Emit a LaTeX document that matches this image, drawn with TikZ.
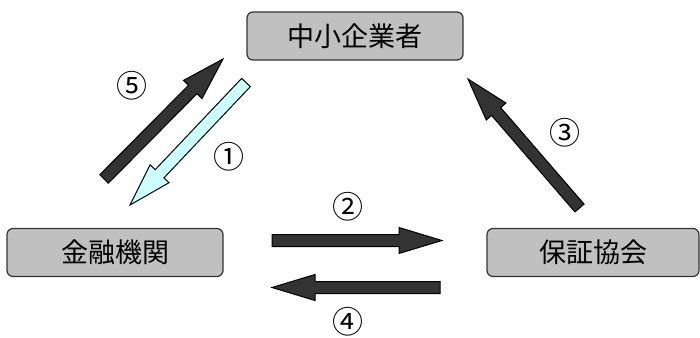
\documentclass[tikz,border=0pt]{standalone}
\usepackage{fontspec}
\setmainfont{Noto Sans CJK JP}
\usetikzlibrary{calc}
\definecolor{boxgray}{HTML}{C0C0C0}
\definecolor{arrdark}{HTML}{333333}
\definecolor{arrcyan}{HTML}{CCFFFF}
\newcommand\arrW{6pt}
\newcommand\arrHW{13pt}
\newcommand\arrL{43pt}
\newcommand\blockarr[3]{%
  \coordinate (neck) at ($(#3)!\arrL!(#2)$);
  \draw[#1] ($(#2)!\arrW!90:(#3)$) -- ($(neck)!\arrW!90:(#3)$) -- ($(neck)!\arrHW!90:(#3)$) -- (#3)
    -- ($(neck)!\arrHW!-90:(#3)$) -- ($(neck)!\arrW!-90:(#3)$) -- ($(#2)!\arrW!-90:(#3)$) -- cycle;}
\tikzset{
  entity/.style={draw=black!80, line width=1.2pt, fill=boxgray, rounded corners=6pt,
    minimum width=216pt, minimum height=48pt, inner sep=0pt, font=\fontsize{27}{30}\selectfont},
  darr/.style={draw=black, line width=1pt, fill=arrdark, line join=miter},
  carr/.style={draw=black, line width=1pt, fill=arrcyan, line join=miter},
  numlbl/.style={font=\fontsize{31}{34}\selectfont, inner sep=0pt, text height=24pt, text depth=3pt}
}
\begin{document}
\begin{tikzpicture}[x=1pt,y=-1pt]
\useasboundingbox (0,0) rectangle (700,337);
\node[entity] (sme) at (355,36) {中小企業者};
\node[entity] (bank) at (115,252.5) {金融機関};
\node[entity, minimum width=212pt] (guar) at (593,252.5) {保証協会};
% arrow end points
\coordinate (a5s) at (104,179); \coordinate (a5e) at (223,59);
\coordinate (a1s) at (246,82.5); \coordinate (a1e) at (130,205);
\coordinate (a3s) at (579.5,208); \coordinate (a3e) at (468,79);
\coordinate (a2s) at (272,240.5); \coordinate (a2e) at (442,240.5);
\coordinate (a4s) at (440,287.5); \coordinate (a4e) at (272,287.5);
\blockarr{darr}{a5s}{a5e}
\blockarr{carr}{a1s}{a1e}
\blockarr{darr}{a3s}{a3e}
\blockarr{darr}{a2s}{a2e}
\blockarr{darr}{a4s}{a4e}
\node[numlbl] (n5) at (132,87) {⑤};
\node[numlbl] (n1) at (229,158) {①};
\node[numlbl] (n3) at (565,134) {③};
\node[numlbl] (n2) at (348,208) {②};
\node[numlbl] (n4) at (348,322.5) {④};
\end{tikzpicture}
\end{document}
